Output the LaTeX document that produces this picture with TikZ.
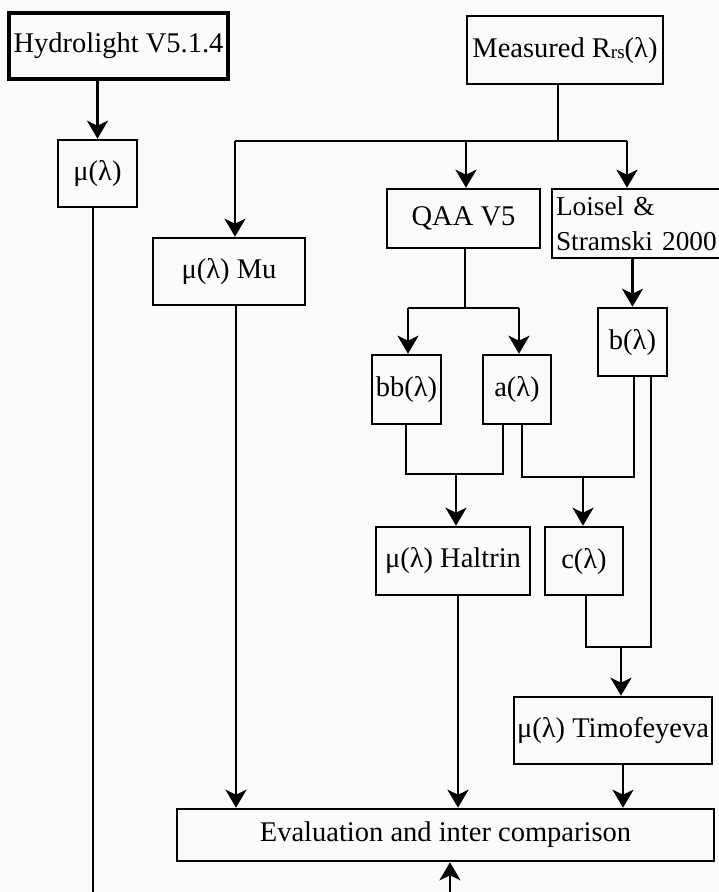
\documentclass[tikz,border=0pt]{standalone}
\usepackage{fontspec}
\setmainfont{Liberation Serif}
\usetikzlibrary{arrows.meta}
\tikzset{
  box/.style={draw, line width=2.6pt, rectangle, inner sep=0pt, anchor=center,
    font=\fontsize{28.5}{35}\selectfont},
  conn/.style={line width=2.6pt},
  arr/.style={line width=2.6pt, -{Stealth[length=18pt,width=21pt,inset=5pt]}},
}
\newcommand{\rrs}{R\raisebox{-1pt}{\fontsize{19}{19}\selectfont rs}}
\begin{document}
\begin{tikzpicture}[x=1pt,y=-1pt]
\useasboundingbox (0,0) rectangle (719,892);
\fill[gray!3] (0,0) rectangle (719,892);
\clip (0,0) rectangle (719,892);
% nodes
\node[box, line width=3.8pt, minimum width=219pt, minimum height=66pt] (hydro) at (118.5,46) {Hydrolight V5.1.4};
\node[box, minimum width=79pt, minimum height=67pt] (mu0) at (97.5,173.5) {μ(λ)};
\node[box, minimum width=196pt, minimum height=68pt] (meas) at (565,50) {Measured \rrs(λ)};
\node[box, minimum width=152pt, minimum height=67pt] (mumu) at (229,271.5) {μ(λ) Mu};
\node[box, minimum width=153pt, minimum height=59pt] (qaa) at (463.5,218.5) {QAA V5};
\node[box, minimum height=69pt, align=left, text width=168pt, inner xsep=4pt,
  font=\fontsize{27.3}{35}\selectfont] (loisel) at (640,223.5) {Loisel \&\\Stramski 2000};
\node[box, minimum width=69pt, minimum height=69pt] (bb) at (406.5,389.5) {bb(λ)};
\node[box, minimum width=68pt, minimum height=69pt] (a) at (517,389.5) {a(λ)};
\node[box, minimum width=69pt, minimum height=68pt] (b) at (632.5,342) {b(λ)};
\node[box, minimum width=154pt, minimum height=68pt] (halt) at (453,561) {μ(λ) Haltrin};
\node[box, minimum width=78pt, minimum height=68pt] (c) at (584,561) {c(λ)};
\node[box, minimum width=198pt, minimum height=67pt] (timo) at (613,730.5) {μ(λ) Timofeyeva};
\node[box, minimum width=537pt, minimum height=52pt] (eval) at (445.5,835) {Evaluation and inter comparison};
% helper coordinates
\coordinate (bl) at (93,892);
\coordinate (bu) at (450,892);
\coordinate (m1) at (558,141);
\coordinate (hL) at (235,141);
\coordinate (hQ) at (466,141);
\coordinate (hR) at (627,141);
\coordinate (q1) at (465,308);
\coordinate (qL) at (408,308);
\coordinate (qR) at (519,308);
\coordinate (j1L) at (406,474);
\coordinate (j1M) at (456,474);
\coordinate (j1R) at (503,474);
\coordinate (j2L) at (522,477);
\coordinate (j2M) at (583,477);
\coordinate (j2R) at (634,477);
\coordinate (j3L) at (586,647);
\coordinate (j3M) at (621,647);
\coordinate (j3R) at (651,647);
% connectors
\draw[arr] (hydro.south -| mu0.north) -- (mu0.north);
\draw[conn] (mu0.south -| bl) -- (bl);
\draw[conn] (meas.south -| m1) -- (m1);
\draw[conn] (hL) -- (hR);
\draw[arr] (hL) -- (mumu.north -| hL);
\draw[arr] (hQ) -- (qaa.north -| hQ);
\draw[arr] (hR) -- (loisel.north -| hR);
\draw[conn] (qaa.south -| q1) -- (q1);
\draw[conn] (qL) -- (qR);
\draw[arr] (qL) -- (bb.north -| qL);
\draw[arr] (qR) -- (a.north -| qR);
\draw[arr] (loisel.south -| b.north) -- (b.north);
\draw[conn] (bb.south -| j1L) -- (j1L) -- (j1R) -- (a.south -| j1R);
\draw[arr] (j1M) -- (halt.north -| j1M);
\draw[conn] (a.south -| j2L) -- (j2L) -- (j2R) -- (b.south -| j2R);
\draw[arr] (j2M) -- (c.north -| j2M);
\draw[conn] (c.south -| j3L) -- (j3L) -- (j3R) -- (b.south -| j3R);
\draw[arr] (j3M) -- (timo.north -| j3M);
\draw[arr] (mumu.south -| 236,0) -- (eval.north -| 236,0);
\draw[arr] (halt.south -| 458,0) -- (eval.north -| 458,0);
\draw[arr] (timo.south -| 623,0) -- (eval.north -| 623,0);
\draw[arr] (bu) -- (eval.south -| bu);
\end{tikzpicture}
\end{document}
